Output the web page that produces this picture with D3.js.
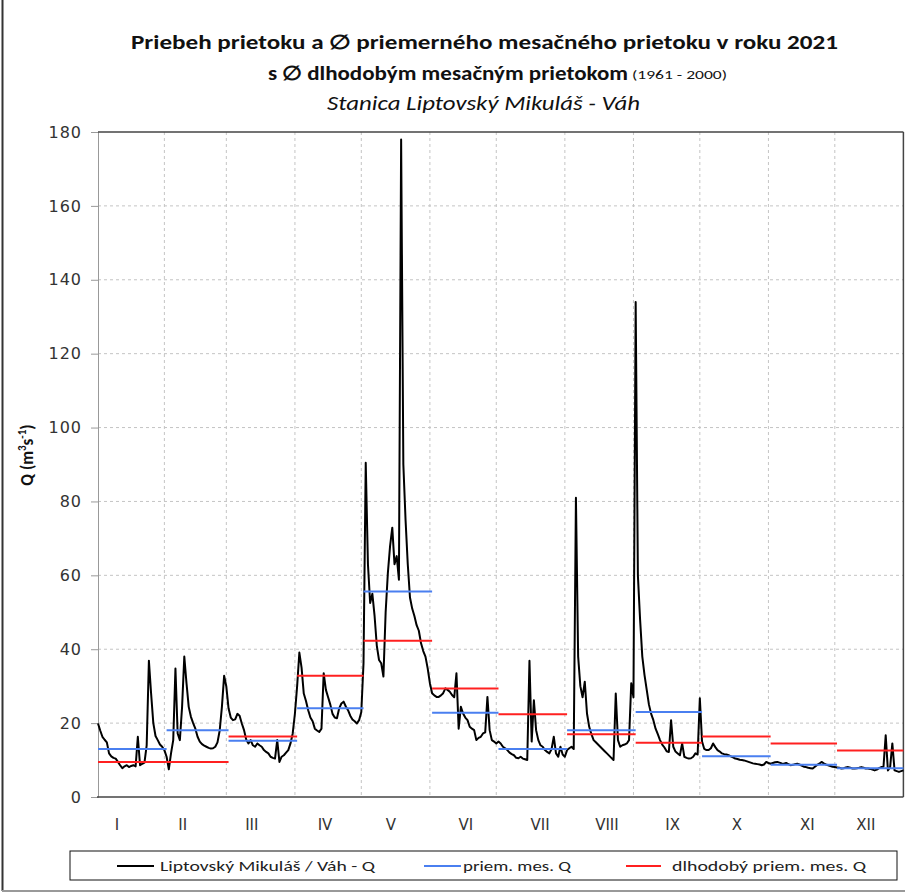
<!DOCTYPE html>
<html><head><meta charset="utf-8">
<script src="https://cdn.jsdelivr.net/npm/d3@7"></script>
<style>body{margin:0;background:#fff}svg{display:block}</style>
</head><body>
<svg id="chart" width="905" height="896"></svg>
<script>
// ---------- data ----------
const monthLabels = ["I","II","III","IV","V","VI","VII","VIII","IX","X","XI","XII"];
const monthDays = [31,28,31,30,31,30,31,31,30,31,30,31];
const monthLabelDay = [8.6,38.3,69.5,102.6,132.4,166.3,199.8,230,259.7,288.7,320.6,347];
const yTicks = [0,20,40,60,80,100,120,140,160,180];

const qJan = [19.9,18,16.3,15.5,14.8,11.8,11,10.6,10.4,9.5,8.6,7.8,8.3,8.6,8.1,8.4,8.6,8.3,16.3,8.6,9,9.3,14,36.9,28,20,16.5,15.4,14.2,13.6,12.7];
const qFeb = [10.9,7.5,11.8,15.4,34.8,17.2,15.4,24.4,38,30.8,24.4,21.7,20,18.5,16.3,15,14.3,13.9,13.6,13.3,13.1,13.2,13.6,14.8,18,24.4,32.8,29.9];
const qMar = [24,21.5,20.8,21,22.5,22,19.9,18.1,15.5,14.5,15.4,14,13.6,14.5,14,13.6,12.7,12.2,11.8,10.9,10.6,10.4,15.4,9.5,10.9,11.3,12,12.7,14.5,17.2,22.6];
const qApr = [30,39.1,35,28,26,23.5,21.5,20.5,18.5,18,17.6,18.5,33.5,29,27,25,22.5,21.5,21.3,24,25.3,25.8,24.5,23.5,22,21,20.5,19.9,20.8,23];
const qMay = [36.2,90.5,63,52.5,55,49,41,37.1,36.2,32.6,50,60.6,67.9,72.9,63,65.2,58.8,178,90,75,63,54,51,49,46.5,45,41.6,39.5,38,34.8,30.8];
const qJun = [28.1,27.5,27.1,27.1,27.5,28.1,29.4,29,28.5,27.6,27,33.5,18.5,24.4,22.6,21.5,20.8,19,18.5,18.1,15.4,16,16.3,17.2,17.5,27.1,18.1,15.4,15,14.5];
const qJul = [15,14.5,13.6,13.2,12.7,12,11.6,11.3,10.6,10.5,10.9,10.4,10.2,10,36.9,15,26.2,18.1,15.4,14,13.6,12.7,12.2,11.8,13,16.3,11.8,10.9,13.6,11.5,10.9];
const qAug = [12.7,13.2,13.6,13,81,38,30,27,31.2,22.6,19,17,15.4,14.8,14.2,13.6,13,12.4,11.8,11.2,10.6,10,28,15.4,13.6,14,14.2,14.5,15.4,30.8,27];
const qSep = [134,60,48,38,33,29,25,22.5,20.8,18.5,17,15.4,14.2,13.4,12.4,12.2,20.8,13.6,12.3,11.8,11.3,14.5,10.9,10.6,10.4,10.5,10.9,11.8,11.5,26.7];
const qOct = [15,13,12.7,12.7,13.2,14.5,13.5,12.7,12.3,11.8,11.6,11.5,11.3,11,10.7,10.4,10.3,10.1,10,9.9,9.7,9.5,9.3,9.1,9,8.9,8.8,8.6,8.8,9.5,9.2];
const qNov = [9,9.2,9.4,9.5,9.3,9.1,9,9.2,8.9,8.6,8.7,8.9,9,8.8,8.5,8.2,8.1,7.9,7.8,7.7,8.2,8.7,9,9.5,9.1,8.8,8.6,8.4,8.2,8.1];
const qDec = [8,7.9,7.7,7.8,8,8.1,7.9,7.7,7.7,7.8,7.9,8.1,7.9,7.7,7.7,7.6,7.4,7.2,7.4,7.8,8.1,8.2,16.7,7.2,8.1,14.5,7.2,7,6.8,7,7.2];

const meanMonthly2021 = [13.0,18.1,15.2,24.0,55.6,22.8,13.0,18.1,23.0,11.0,8.7,7.8];
const meanLongTerm = [9.5,9.5,16.4,32.8,42.3,29.4,22.4,17.0,14.7,16.4,14.5,12.6];

const seriesNames = ["Liptovský Mikuláš / Váh - Q","priem. mes. Q","dlhodobý priem. mes. Q"];
const seriesColors = ["#000000","#4a7ff0","#ff2020"];

// ---------- build ----------
const daily = [].concat(qJan,qFeb,qMar,qApr,qMay,qJun,qJul,qAug,qSep,qOct,qNov,qDec);
const monthStart = [];
monthDays.reduce((acc,d)=>{monthStart.push(acc);return acc+d;},0);
const lastDay = daily.length-1;

const svg = d3.select("#chart");
const x = d3.scaleLinear().domain([0,lastDay]).range([98,903.4]);
const y = d3.scaleLinear().domain([0,180]).range([797,132]);

// outer frame fragments
svg.append("line").attr("x1",2.5).attr("x2",2.5).attr("y1",0).attr("y2",891).attr("stroke","#333").attr("stroke-width",2);
svg.append("line").attr("x1",2).attr("x2",905).attr("y1",891).attr("y2",891).attr("stroke","#999").attr("stroke-width",2);

// titles
const title = svg.append("g").attr("font-family","Carlito, 'Liberation Sans Narrow', 'Open Sans', sans-serif").attr("fill","#111");
title.append("text").attr("x",131).attr("y",49).attr("font-size",20).attr("font-weight","bold")
  .attr("textLength",707).attr("lengthAdjust","spacingAndGlyphs")
  .text("Priebeh prietoku a \u2205 priemerného mesačného prietoku v roku 2021");
title.append("text").attr("x",268).attr("y",80).attr("font-size",20).attr("font-weight","bold")
  .attr("textLength",360).attr("lengthAdjust","spacingAndGlyphs")
  .text("s \u2205 dlhodobým mesačným prietokom");
title.append("text").attr("x",632).attr("y",79).attr("font-size",13)
  .attr("textLength",95).attr("lengthAdjust","spacingAndGlyphs")
  .text("(1961 - 2000)");
title.append("text").attr("x",327).attr("y",110).attr("font-size",20).attr("font-style","italic")
  .attr("textLength",313).attr("lengthAdjust","spacingAndGlyphs")
  .text("Stanica Liptovský Mikuláš - Váh");

// grid
const grid = svg.append("g");
grid.selectAll("line.h").data(yTicks.filter(t=>t>0 && t<180)).join("line")
  .attr("x1",98).attr("x2",903.4).attr("y1",d=>y(d)).attr("y2",d=>y(d))
  .attr("stroke","#c4c4c4").attr("stroke-dasharray","3,3");
grid.selectAll("line.v").data(monthStart.slice(1).map(s=>s-1)).join("line")
  .attr("x1",d=>x(d)).attr("x2",d=>x(d)).attr("y1",132).attr("y2",797)
  .attr("stroke","#c4c4c4").attr("stroke-dasharray","3,3");

// axes
const yAxis = d3.axisLeft(y).tickValues(yTicks).tickSize(7).tickFormat(d3.format("d"));
const ya = svg.append("g").attr("transform","translate(98,0)").call(yAxis);
ya.select(".domain").attr("stroke","#999");
ya.selectAll(".tick line").attr("stroke","#999");
ya.selectAll(".tick text").attr("font-family","'DejaVu Sans', Verdana, sans-serif").attr("font-size",16)
  .attr("letter-spacing",1).attr("fill","#333").attr("x",-16);

svg.append("line").attr("x1",98).attr("x2",903.4).attr("y1",132).attr("y2",132).attr("stroke","#444").attr("stroke-width",1.5);
svg.append("line").attr("x1",903.4).attr("x2",903.4).attr("y1",132).attr("y2",797).attr("stroke","#444").attr("stroke-width",1.5);
svg.append("line").attr("x1",97).attr("x2",903.4).attr("y1",797).attr("y2",797).attr("stroke","#444").attr("stroke-width",1.5);

svg.append("g").selectAll("text").data(monthLabels).join("text")
  .attr("x",(d,i)=>x(monthLabelDay[i])).attr("y",830).attr("text-anchor","middle")
  .attr("font-family","'DejaVu Sans', Verdana, sans-serif").attr("font-size",15).attr("fill","#333")
  .text(d=>d);

// y label
const yl = svg.append("text").attr("transform","translate(33,455) rotate(-90)").attr("text-anchor","middle")
  .attr("font-family","Carlito, 'Liberation Sans Narrow', 'Open Sans', sans-serif").attr("font-weight","bold").attr("font-size",17).attr("fill","#111");
yl.append("tspan").text("Q (m");
yl.append("tspan").attr("font-size",11).attr("dy",-7).text("3");
yl.append("tspan").attr("dy",7).text("s");
yl.append("tspan").attr("font-size",11).attr("dy",-7).text("-1");
yl.append("tspan").attr("dy",7).text(")");

// daily line
const line = d3.line().x((d,i)=>x(i)).y(d=>y(d));
svg.append("path").datum(daily).attr("d",line).attr("fill","none")
  .attr("stroke",seriesColors[0]).attr("stroke-width",2).attr("stroke-linejoin","round");

// monthly mean lines
function meanLines(vals,color){
  svg.append("g").selectAll("line").data(vals).join("line")
    .attr("x1",(d,i)=>x(monthStart[i])).attr("x2",(d,i)=>x(Math.min(monthStart[i]+monthDays[i],lastDay)))
    .attr("y1",d=>y(d)).attr("y2",d=>y(d)).attr("stroke",color).attr("stroke-width",2);
}
meanLines(meanMonthly2021,seriesColors[1]);
meanLines(meanLongTerm,seriesColors[2]);

// legend
const lg = svg.append("g");
lg.append("rect").attr("x",70).attr("y",851).attr("width",827).attr("height",29).attr("fill","#fff").attr("stroke","#111").attr("stroke-width",1);
const legX = [[117,154,160,215],[424,461,463,108],[626,661,672,194]];
seriesNames.forEach((n,i)=>{
  lg.append("line").attr("x1",legX[i][0]).attr("x2",legX[i][1]).attr("y1",866).attr("y2",866).attr("stroke",seriesColors[i]).attr("stroke-width",2);
  lg.append("text").attr("x",legX[i][2]).attr("y",871).attr("font-size",14)
    .attr("font-family","Carlito, 'Liberation Sans Narrow', 'Open Sans', sans-serif").attr("fill","#222")
    .attr("textLength",legX[i][3]).attr("lengthAdjust","spacingAndGlyphs").text(n);
});
</script>
</body></html>
